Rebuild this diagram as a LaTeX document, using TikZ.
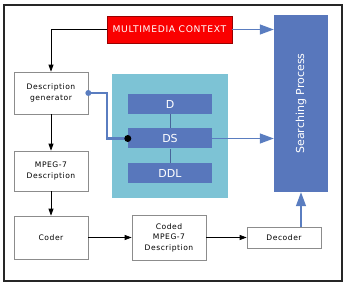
\documentclass[tikz,border=0pt]{standalone}
\usepackage{fontspec}
\usepackage{graphicx}
\usepackage{tikz}
\usepackage{xcolor}
\usetikzlibrary{arrows.meta, positioning, shapes}
\setmainfont{DejaVu Sans}
\newfontfamily\spacedfont[LetterSpace=7]{DejaVu Sans}
\definecolor{myred}{RGB}{250, 0, 0}
\definecolor{myblue}{RGB}{88, 119, 188}
\definecolor{mylight}{RGB}{125, 195, 213}
\definecolor{myline}{RGB}{90, 125, 192}
\definecolor{mybox}{RGB}{140, 140, 140}

\begin{document}
\begin{tikzpicture}[x=1pt,y=-1pt,
          box/.style={draw=mybox,fill=white,align=center,inner sep=1pt,
                      font=\spacedfont\fontsize{7.6}{10.5}\selectfont,line width=0.7pt},
          layer/.style={fill=myblue,text=white,minimum width=84pt,minimum height=20pt,
                        inner sep=0pt,font=\fontsize{11}{12}\selectfont},
          blk/.style={-{Triangle[length=7pt,width=5pt]},line width=0.8pt},
          blu/.style={draw=myline,-{Triangle[length=14pt,width=10pt]},line width=1.3pt}]
        \useasboundingbox (0,0) rectangle (350,288);
        \draw[line width=2.6pt,black!85] (4,5) rectangle (342,281);
        % top row
        \node[fill=myred,draw=red!60!black,text=white,minimum width=125pt,minimum height=27pt,
              inner sep=0pt,font=\spacedfont\fontsize{9.2}{10}\selectfont](mc) at (169.5,29.5){MULTIMEDIA CONTEXT};
        \node[fill=myblue,minimum width=54pt,minimum height=177pt,inner sep=0pt,text=white,
              font=\fontsize{11}{13}\selectfont](search) at (301,103.5){\rotatebox{90}{Searching Process}};
        % left column
        \node[box,minimum width=74pt,minimum height=42pt](gen) at (51,93){Description\\generator};
        \node[box,minimum width=74pt,minimum height=40pt](mpeg) at (51,171){MPEG-7\\Description};
        \node[box,minimum width=74pt,minimum height=43pt](coder) at (51,237.5){Coder};
        \node[box,minimum width=74pt,minimum height=45pt](coded) at (169,237.5){Coded\\MPEG-7\\Description};
        \node[box,minimum width=74pt,minimum height=21pt](dec) at (284,237.5){Decoder};
        % MPEG-7 parts
        \node[fill=mylight,minimum width=116pt,minimum height=124pt](panel) at (170,136){};
        \node[layer](d) at (170,104){D};
        \node[layer](ds) at (170,138.5){DS};
        \node[layer](ddl) at (170,173){DDL};
        \draw[myline!80!black,line width=1pt](d)--(ds);
        \draw[myline!80!black,line width=1pt](ds)--(ddl);
        % connectors
        \draw[blk](mc.west)-|(gen.north);
        \draw[blk](gen)--(mpeg);
        \draw[blk](mpeg)--(coder);
        \draw[blk](coder)--(coded);
        \draw[blk](coded)--(dec);
        \draw[blu](mc.east)--(mc.east-|search.west);
        \draw[blu](ds.east)--(ds.east-|search.west);
        \draw[blu](search.south|-dec.north)--(search.south);
        \draw[myline,line width=2.2pt](gen.east)--++(19,0)|-(ds.west);
        \fill[myline](gen.east) circle (3pt);
        \fill[black](ds.west) circle (3.5pt);
      \end{tikzpicture}
\end{document}
